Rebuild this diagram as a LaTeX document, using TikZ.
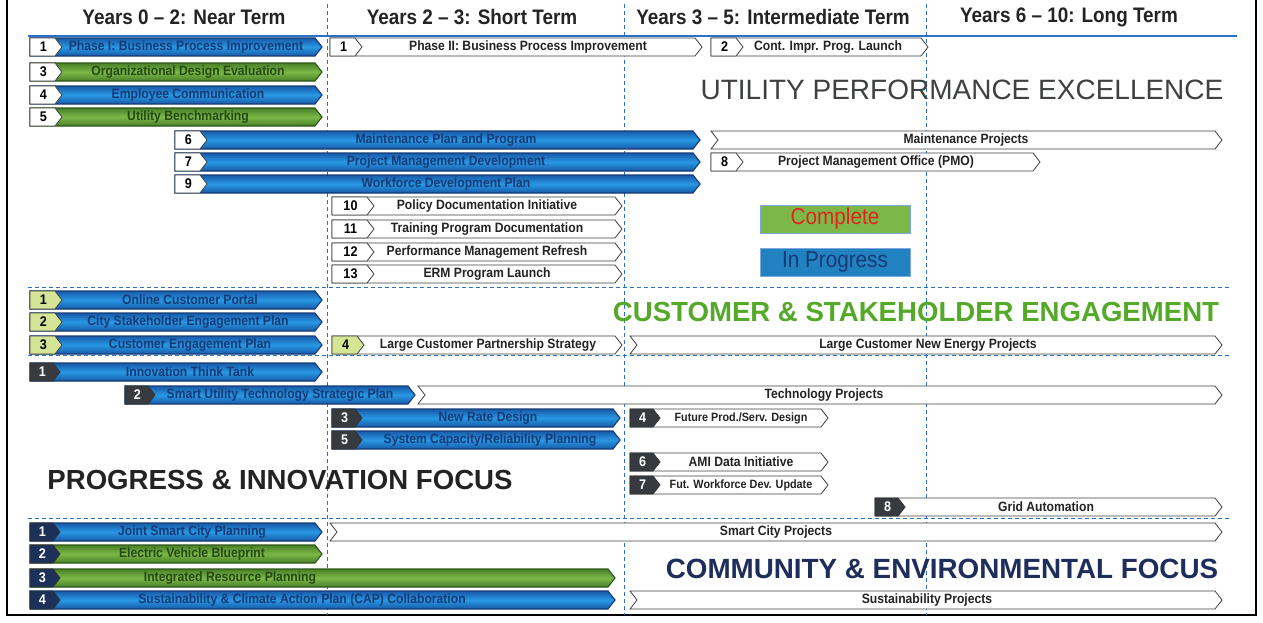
\documentclass[tikz,border=0pt]{standalone}
\usepackage{fontspec}
\setmainfont{Liberation Sans}
\newfontfamily\narrowsf[FakeStretch=0.9]{Liberation Sans}

\definecolor{bluedk}{RGB}{24,90,170}
\definecolor{bluelt}{RGB}{40,152,226}
\definecolor{blueln}{RGB}{22,58,118}
\definecolor{greendk}{RGB}{72,128,40}
\definecolor{greenlt}{RGB}{124,184,72}
\definecolor{greenln}{RGB}{45,85,25}
\definecolor{gridblue}{RGB}{40,112,200}
\definecolor{limefill}{RGB}{214,228,150}
\definecolor{darkfill}{RGB}{55,58,62}
\definecolor{navyfill}{RGB}{28,48,88}
\definecolor{inktext}{RGB}{35,35,35}
\definecolor{titlegray}{RGB}{62,64,66}
\definecolor{titlegreen}{RGB}{84,170,40}
\definecolor{titlenavy}{RGB}{30,45,92}
\definecolor{donered}{RGB}{225,35,30}

\newcommand{\barfont}{\narrowsf\bfseries\fontsize{13.5}{14}\selectfont}
\newcommand{\smallbarfont}{\narrowsf\bfseries\fontsize{12}{12}\selectfont}
\newcommand{\numfont}{\narrowsf\bfseries\fontsize{14}{14}\selectfont}
\newcommand{\tabw}{32}
% bar with a pointed right end
\newcommand{\chevron}[4]{\draw[#1] (#2,#4-9) -- (#3-7,#4-9) -- (#3,#4) -- (#3-7,#4+9) -- (#2,#4+9) -- cycle;}
% bar with a notch on the left as well
\newcommand{\notched}[4]{\draw[#1] (#2,#4-9) -- (#3-7,#4-9) -- (#3,#4) -- (#3-7,#4+9) -- (#2,#4+9) -- (#2+7,#4) -- cycle;}
% name, bar, tab, x0, x1, y, label x, number, label
\newcommand{\taskbar}[9]{%
  \chevron{#2bar}{#4}{#5}{#6}
  \chevron{#3tab}{#4}{#4+\tabw}{#6}
  \node[#3num] (#1n) at ({#4+(\tabw-5)/2},#6) {#8};
  \node[#2lbl] (#1) at (#7,#6) {#9};}

\begin{document}
\begin{tikzpicture}[x=1pt, y=-1pt,
  bluebar/.style={draw=blueln, line width=1.1pt, top color=bluedk, bottom color=bluedk, middle color=bluelt},
  greenbar/.style={draw=greenln, line width=1.1pt, top color=greendk, bottom color=greendk, middle color=greenlt},
  plainbar/.style={draw=black!75, line width=0.8pt, fill=white},
  smallbar/.style={plainbar},
  bluelbl/.style={font=\barfont, text=blueln, inner sep=0pt},
  greenlbl/.style={font=\barfont, text=greenln!85!black, inner sep=0pt},
  plainlbl/.style={font=\barfont, text=inktext, inner sep=0pt},
  smalllbl/.style={font=\smallbarfont, text=inktext, inner sep=0pt},
  whitetab/.style={draw=black!75, line width=0.8pt, fill=white},
  limetab/.style={draw=black!75, line width=0.8pt, fill=limefill},
  darktab/.style={draw=black!80, line width=0.8pt, fill=darkfill},
  navytab/.style={draw=black!80, line width=0.8pt, fill=navyfill},
  whitenum/.style={font=\numfont, text=black, inner sep=0pt},
  limenum/.style={font=\numfont, text=black, inner sep=0pt},
  darknum/.style={font=\numfont, text=white, inner sep=0pt},
  navynum/.style={font=\numfont, text=white, inner sep=0pt},
  gridline/.style={gridblue, line width=0.9pt, dash pattern=on 4pt off 3pt},
  header/.style={font=\narrowsf\bfseries\fontsize{21}{21}\selectfont, text=inktext},
  legendbox/.style={minimum width=150pt, minimum height=28pt, draw=gridblue!60, line width=0.8pt,
    font=\narrowsf\fontsize{23}{23}\selectfont}]
\useasboundingbox (0,0) rectangle (1263,622);
\fill[white] (0,0) rectangle (1263,622);

% frame, grid
\draw[line width=1.2pt] (7,-10) rectangle (1256,615);
\draw[gridblue, line width=1.5pt] (28,36) -- (1237,36);
\draw[gridline] (327,4) -- (327,615);
\draw[gridline] (624,4) -- (624,615);
\draw[gridline] (926,4) -- (926,615);
\draw[gridline] (28,287) -- (1230,287);
\draw[gridline] (28,355) -- (1230,355);
\draw[gridline] (28,518) -- (1230,518);

\node[header] (h1) at (184,17) {Years 0 – 2: Near Term};
\node[header] (h2) at (472,17) {Years 2 – 3: Short Term};
\node[header] (h3) at (773,17) {Years 3 – 5: Intermediate Term};
\node[header] (h4) at (1069,17) {Years 6 – 10: Long Term};

% utility performance excellence
\taskbar{u1}{blue}{white}{30}{322}{47}{186}{1}{Phase I: Business Process Improvement}
\taskbar{u2}{plain}{white}{330}{702}{47}{528}{1}{Phase II: Business Process Improvement}
\taskbar{u3}{plain}{white}{711}{928}{47}{828}{2}{Cont. Impr. Prog. Launch}
\taskbar{u4}{green}{white}{30}{322}{72}{188}{3}{Organizational Design Evaluation}
\taskbar{u5}{blue}{white}{30}{322}{95}{188}{4}{Employee Communication}
\taskbar{u6}{green}{white}{30}{322}{117}{188}{5}{Utility Benchmarking}
\taskbar{u7}{blue}{white}{175}{700}{140}{446}{6}{Maintenance Plan and Program}
\notched{plainbar}{711}{1222}{140}
\node[plainlbl] (u8) at (966,140) {Maintenance Projects};
\taskbar{u9}{blue}{white}{175}{700}{162}{446}{7}{Project Management Development}
\taskbar{u10}{plain}{white}{711}{1040}{162}{876}{8}{Project Management Office (PMO)}
\taskbar{u11}{blue}{white}{175}{700}{184}{446}{9}{Workforce Development Plan}
\begin{scope}
\renewcommand{\tabw}{42}
\taskbar{u12}{plain}{white}{332}{622}{206}{487}{10}{Policy Documentation Initiative}
\taskbar{u13}{plain}{white}{332}{622}{229}{487}{11}{Training Program Documentation}
\taskbar{u14}{plain}{white}{332}{622}{252}{487}{12}{Performance Management Refresh}
\taskbar{u15}{plain}{white}{332}{622}{274}{487}{13}{ERM Program Launch}
\end{scope}
\node[font=\fontsize{28}{28}\selectfont, text=titlegray] (t1) at (962,90) {UTILITY PERFORMANCE EXCELLENCE};
\node[legendbox, fill=greenlt, text=donered] (done) at (835,219) {Complete};
\node[legendbox, fill=bluelt!85!black, text=blueln] (prog) at (835,262) {In Progress};

% customer and stakeholder engagement
\taskbar{c1}{blue}{lime}{30}{322}{300}{190}{1}{Online Customer Portal}
\taskbar{c2}{blue}{lime}{30}{322}{322}{188}{2}{City Stakeholder Engagement Plan}
\taskbar{c3}{blue}{lime}{30}{322}{345}{190}{3}{Customer Engagement Plan}
\taskbar{c4}{plain}{lime}{332}{622}{345}{488}{4}{Large Customer Partnership Strategy}
\notched{plainbar}{630}{1222}{345}
\node[plainlbl] (c5) at (928,345) {Large Customer New Energy Projects};
\node[font=\bfseries\fontsize{27.6}{28}\selectfont, text=titlegreen] (t2) at (916,312) {CUSTOMER \& STAKEHOLDER ENGAGEMENT};

% progress and innovation
\renewcommand{\tabw}{30}
\taskbar{p1}{blue}{dark}{30}{322}{372}{190}{1}{Innovation Think Tank}
\taskbar{p2}{blue}{dark}{125}{415}{395}{280}{2}{Smart Utility Technology Strategic Plan}
\notched{plainbar}{418}{1222}{395}
\node[plainlbl] (p9) at (824,395) {Technology Projects};
\taskbar{p3}{blue}{dark}{332}{620}{418}{488}{3}{New Rate Design}
\taskbar{p4}{small}{dark}{630}{828}{418}{741}{4}{Future Prod./Serv. Design}
\taskbar{p5}{blue}{dark}{332}{620}{440}{490}{5}{System Capacity/Reliability Planning}
\taskbar{p6}{plain}{dark}{630}{828}{462}{741}{6}{AMI Data Initiative}
\taskbar{p7}{small}{dark}{630}{828}{485}{741}{7}{Fut. Workforce Dev. Update}
\taskbar{p8}{plain}{dark}{875}{1222}{507}{1046}{8}{Grid Automation}
\node[font=\bfseries\fontsize{27.6}{28}\selectfont, text=inktext] (t3) at (280,480) {PROGRESS \& INNOVATION FOCUS};

% community and environmental focus
\taskbar{e1}{blue}{navy}{30}{322}{532}{192}{1}{Joint Smart City Planning}
\notched{plainbar}{330}{1222}{532}
\node[plainlbl] (e5) at (776,532) {Smart City Projects};
\taskbar{e2}{green}{navy}{30}{322}{554}{192}{2}{Electric Vehicle Blueprint}
\taskbar{e3}{green}{navy}{30}{615}{578}{230}{3}{Integrated Resource Planning}
\taskbar{e4}{blue}{navy}{30}{615}{600}{302}{4}{Sustainability \& Climate Action Plan (CAP) Collaboration}
\notched{plainbar}{630}{1222}{600}
\node[plainlbl] (e6) at (927,600) {Sustainability Projects};
\node[font=\bfseries\fontsize{27.8}{28}\selectfont, text=titlenavy] (t4) at (942,569) {COMMUNITY \& ENVIRONMENTAL FOCUS};
\end{tikzpicture}
\end{document}
